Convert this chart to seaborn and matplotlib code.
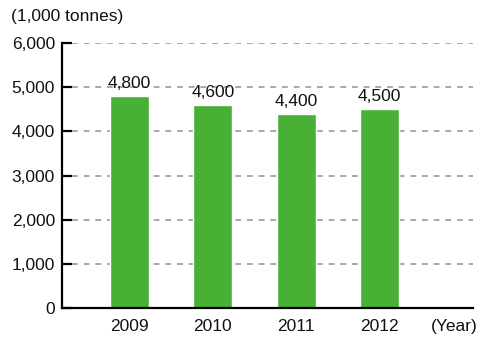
import matplotlib
matplotlib.use("Agg")
import matplotlib.pyplot as plt
import matplotlib.transforms as mtransforms
import seaborn as sns
import pandas as pd

years = ["2009", "2010", "2011", "2012"]
volumes = [4800, 4600, 4400, 4500]
y_ticks = [0, 1000, 2000, 3000, 4000, 5000, 6000]
y_tick_labels = ["0", "1,000", "2,000", "3,000", "4,000", "5,000", "6,000"]
unit_label = "(1,000 tonnes)"
x_unit_label = "(Year)"

bar_color = "#47B035"
fs = 12.5

sns.set_theme(style="white")
plt.rcParams["font.family"] = ["Liberation Sans", "DejaVu Sans"]

df = pd.DataFrame({"year": years, "volume": volumes})

fig = plt.figure(figsize=(4.86, 3.37), dpi=100)
ax = fig.add_axes([0.1276, 0.086, 0.973 - 0.1276, 0.8724 - 0.086])

sns.barplot(data=df, x="year", y="volume", color=bar_color, saturation=1,
            width=0.47, ax=ax, zorder=3)

ax.set_ylim(0, 6000)
ax.set_xlim(-0.81, 4.12)
ax.set_yticks(y_ticks)
ax.set_yticklabels(y_tick_labels)
ax.set_xlabel("")
ax.set_ylabel("")

# dashed horizontal guides
for v in y_ticks[1:]:
    ax.axhline(v, xmin=10 / 411, xmax=1, color="#9a9a9a", lw=1.2,
               ls=(0, (3.5, 3.5)), zorder=1)

for s in ["top", "right"]:
    ax.spines[s].set_visible(False)
for s in ["left", "bottom"]:
    ax.spines[s].set_color("black")
    ax.spines[s].set_linewidth(1.6)
    ax.spines[s].set_zorder(4)

ax.tick_params(axis="y", direction="in", length=7, width=1.6, color="black",
               labelsize=fs, pad=5, left=True)
ax.tick_params(axis="x", length=0, labelsize=fs, pad=8)
for lbl in ax.get_yticklabels() + ax.get_xticklabels():
    lbl.set_color("#111111")

# value labels above bars
for i, v in enumerate(volumes):
    ax.text(i, v + 110, f"{v:,}", ha="center", va="bottom", fontsize=fs,
            color="#111111")

fig.text(11 / 486, 1 - 16 / 337, unit_label, ha="left", va="center",
         fontsize=fs, color="#111111")

# year-unit label sits on the same line as the tick labels
fig.canvas.draw()
bb = ax.get_xticklabels()[0].get_window_extent()
ax.text(3.9, bb.y1, x_unit_label,
        transform=mtransforms.blended_transform_factory(
            ax.transData, mtransforms.IdentityTransform()),
        ha="center", va="top", fontsize=fs, color="#111111")

fig.savefig("out.png", dpi=100)
